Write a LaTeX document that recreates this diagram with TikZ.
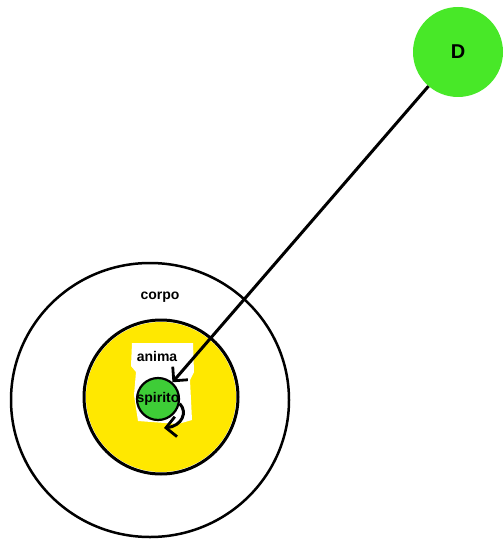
\documentclass[tikz,border=0pt]{standalone}
\usepackage{fontspec}
\setmainfont{Liberation Sans}
\usetikzlibrary{arrows.meta}
\definecolor{giallo}{RGB}{255,232,0}
\definecolor{verdeD}{RGB}{72,232,40}
\definecolor{verdeS}{RGB}{62,205,55}
\tikzset{
  etichetta/.style={font=\bfseries\fontsize{14}{16}\selectfont},
  freccia/.style={line width=3pt,-{Straight Barb[length=10pt,width=20pt,line width=2.8pt]}}
}
\begin{document}
\begin{tikzpicture}[x=1pt,y=-1pt]
\useasboundingbox (0,0) rectangle (503,540);
\coordinate (Oc) at (150,400); \coordinate (Oa) at (161,397);
\draw[line width=2.5pt] (Oc) ellipse [x radius=139, y radius=137];
\fill[giallo] (Oa) circle [radius=75];
\fill[white] (132,343)--(193,343)--(194,372)--(190,380)--(192,420)--(178,424)--(138,421)--(134,395)--(136,372)--(131,366)--cycle;
\draw[line width=3pt] (Oa) circle [radius=77];
\node[etichetta] (corpo) at (160,297) {corpo};
\node[etichetta] (anima) at (157,356) {anima};
\node[circle,fill=verdeS,draw,line width=2.2pt,minimum size=42pt,inner sep=0pt] (S) at (158,399) {};
\node[etichetta] (spirito) at (S) {spirito};
\node[circle,fill=verdeD,minimum size=90pt,inner sep=0pt,font=\bfseries\fontsize{20}{22}\selectfont] (D) at (458,52) {D};
\coordinate (curl) at (164,428);
\draw[freccia] (D) -- (S);
\draw[freccia] (S.-12) .. controls (188,412) and (182,426) .. (curl);
\end{tikzpicture}
\end{document}
